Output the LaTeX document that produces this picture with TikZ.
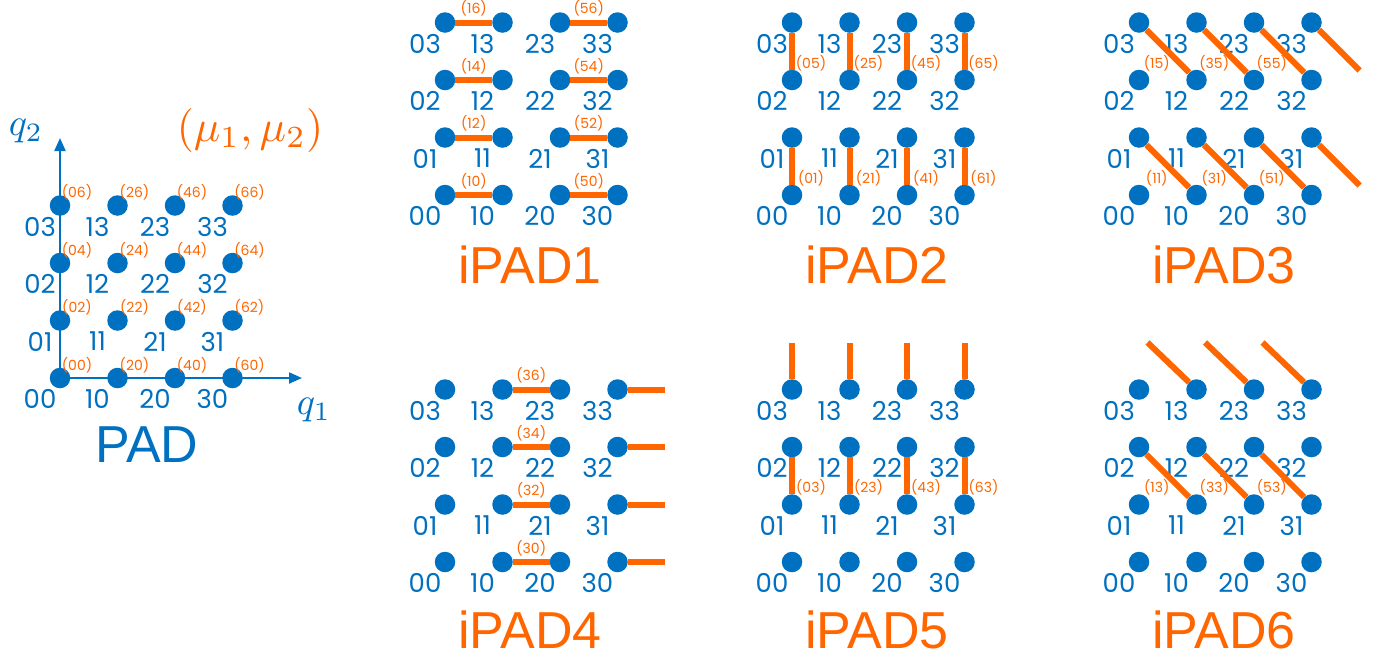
\documentclass[tikz,border=0pt]{standalone}
\usepackage{fontspec}
\setmainfont{Liberation Sans}
\newfontfamily\digitfont{Poppins}
\usetikzlibrary{calc}
\usetikzlibrary{arrows.meta}
\definecolor{padblue}{RGB}{0,112,192}
\definecolor{padorange}{RGB}{255,102,0}

\begin{document}
\begin{tikzpicture}[x=1pt,y=-1pt,
    dot/.style={circle,fill=padblue,minimum size=20.5pt,inner sep=0pt},
    num/.style={text=padblue,inner sep=0pt,font=\digitfont\fontsize{26}{26}\selectfont},
    idx/.style={text=padorange,inner sep=0pt,font=\digitfont\fontsize{14}{14}\selectfont},
    bond/.style={draw=padorange,line width=6pt},
    qaxis/.style={draw=padblue,line width=2.2pt,-{Triangle[length=13pt,width=11pt]}},
    padtitle/.style={inner sep=0pt,font=\fontsize{52}{52}\selectfont}]
  \useasboundingbox (0,0) rectangle (1392,657);

  % PAD
  \foreach \i in {0,...,3}
    \foreach \j in {0,...,3} {
      \pgfmathtruncatemacro\ti{2*\i}
      \pgfmathtruncatemacro\tj{2*\j}
      \node[dot] (p\i\j) at ({60+57.5*\i},{378-57.5*\j}) {};
      \node[num] at ($(p\i\j)+(-20,21)$) {\i\j};
      \node[idx] at ($(p\i\j)+(17,-13)$) {(\ti\tj)};
    }
  \coordinate (q2end) at (60,138);
  \coordinate (q1end) at (302,378);
  \draw[qaxis] (p00) -- (q2end);
  \draw[qaxis] (p00) -- (q1end);
  \node[text=padblue,scale=3.8] (q2) at (26,131) {$q_2$};
  \node[text=padblue,scale=3.8] (q1) at (314,410) {$q_1$};
  \node[text=padorange,scale=4.4] (mu) at (250,130) {$(\mu_1,\mu_2)$};
  \node[padtitle,text=padblue] (pad) at (147,445) {PAD};

  % iPAD grids
  \foreach \n/\ox/\oy in {a/445/195,b/792/195,c/1139/195,d/445/562,e/792/562,f/1139/562}
    \foreach \i in {0,...,3}
      \foreach \j in {0,...,3} {
        \node[dot] (\n\i\j) at ({\ox+57.5*\i},{\oy-57.5*\j}) {};
        \node[num] at ($(\n\i\j)+(-20,21)$) {\i\j};
      }
  \node[padtitle,text=padorange] (ipad1) at (530,265) {iPAD1};
  \node[padtitle,text=padorange] (ipad2) at (877,265) {iPAD2};
  \node[padtitle,text=padorange] (ipad3) at (1224,265) {iPAD3};
  \node[padtitle,text=padorange] (ipad4) at (530,630) {iPAD4};
  \node[padtitle,text=padorange] (ipad5) at (877,630) {iPAD5};
  \node[padtitle,text=padorange] (ipad6) at (1224,630) {iPAD6};

  % iPAD1
  \foreach \j [evaluate=\j as \tj using int(2*\j)] in {0,...,3} {
    \draw[bond] (a0\j) -- node[idx,yshift=14pt] {(1\tj)} (a1\j);
    \draw[bond] (a2\j) -- node[idx,yshift=14pt] {(5\tj)} (a3\j);
  }
  % iPAD2
  \foreach \i [evaluate=\i as \ti using int(2*\i)] in {0,...,3} {
    \draw[bond] (b\i0) -- node[idx,xshift=19pt,yshift=-12pt] {(\ti1)} (b\i1);
    \draw[bond] (b\i2) -- node[idx,xshift=19pt,yshift=-12pt] {(\ti5)} (b\i3);
  }
  % iPAD3
  \foreach \i [evaluate=\i as \ti using int(2*\i+1), evaluate=\i as \k using int(\i+1)] in {0,1,2} {
    \draw[bond] (c\i1) -- node[idx,xshift=-11pt,yshift=-12pt] {(\ti1)} (c\k0);
    \draw[bond] (c\i3) -- node[idx,xshift=-11pt,yshift=-12pt] {(\ti5)} (c\k2);
  }
  \coordinate (cend1) at ($(c31)+(48,48)$);
  \coordinate (cend3) at ($(c33)+(48,48)$);
  \draw[bond] (c31) -- (cend1);
  \draw[bond] (c33) -- (cend3);
  % iPAD4
  \foreach \j [evaluate=\j as \tj using int(2*\j)] in {0,...,3} {
    \draw[bond] (d1\j) -- node[idx,yshift=14pt] {(3\tj)} (d2\j);
    \coordinate (dend\j) at ($(d3\j)+(47,0)$);
    \draw[bond] (d3\j) -- (dend\j);
  }
  % iPAD5
  \foreach \i [evaluate=\i as \ti using int(2*\i)] in {0,...,3} {
    \draw[bond] (e\i1) -- node[idx,xshift=19pt,yshift=-12pt] {(\ti3)} (e\i2);
    \coordinate (eend\i) at ($(e\i3)+(0,-47)$);
    \draw[bond] (e\i3) -- (eend\i);
  }
  % iPAD6
  \foreach \i [evaluate=\i as \ti using int(2*\i+1), evaluate=\i as \k using int(\i+1)] in {0,1,2} {
    \draw[bond] (f\i2) -- node[idx,xshift=-11pt,yshift=-12pt] {(\ti3)} (f\k1);
    \coordinate (fend\k) at ($(f\k3)+(-49,-47)$);
    \draw[bond] (fend\k) -- (f\k3);
  }
\end{tikzpicture}
\end{document}
